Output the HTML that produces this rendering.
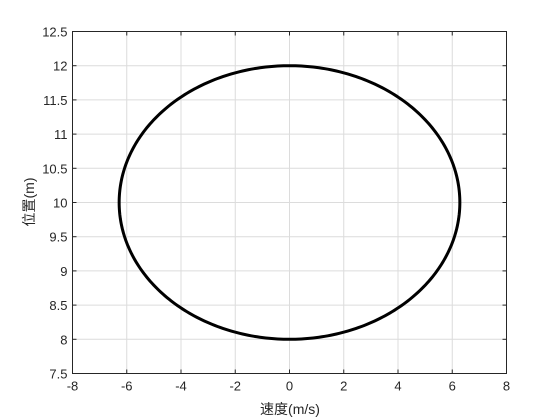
<!DOCTYPE html>
<html><head><meta charset="utf-8"><style>
body{margin:0;background:#fff;}
svg{display:block;font-family:"Liberation Sans","Noto Sans CJK SC",sans-serif;}
</style></head><body>
<svg id="chart" width="560" height="420" viewBox="0 0 560 420">
<rect x="0" y="0" width="560" height="420" fill="#fff"/>
<g id="grid"></g>
<path id="curve" fill="none" stroke="#000" stroke-width="3"/>
<rect x="72.5" y="31.5" width="434" height="342" fill="none" stroke="#262626" stroke-width="1"/>
<g id="ticks"></g>
<text x="290" y="414" font-size="14" fill="#262626" text-anchor="middle">速度(m/s)</text>
<text transform="translate(34,202) rotate(-90)" font-size="14" fill="#262626" text-anchor="middle">位置(m)</text>
</svg>
<script>
const xTicks=[-8,-6,-4,-2,0,2,4,6,8];
const yTicks=[7.5,8,8.5,9,9.5,10,10.5,11,11.5,12,12.5];
const centerX=[0];
const centerY=[10];
const radiusX=[6.28];
const radiusY=[2];
const L=72.5,R=506.5,T=31.5,B=373.5;
const sx=v=>L+(v+8)/16*(R-L);
const sy=v=>B-(v-7.5)/5*(B-T);
const NS='http://www.w3.org/2000/svg';
const g=document.getElementById('grid'),tk=document.getElementById('ticks');
function mk(p,tag,a){const e=document.createElementNS(NS,tag);for(const k in a)e.setAttribute(k,a[k]);p.appendChild(e);return e;}
xTicks.forEach(v=>{const x=sx(v);
const l=mk(g,'line',{x1:x,x2:x,y1:T,y2:B,stroke:'#dcdcdc','stroke-width':1});


mk(tk,'line',{x1:x,x2:x,y1:B,y2:B-4,stroke:'#262626'});
mk(tk,'line',{x1:x,x2:x,y1:T,y2:T+4,stroke:'#262626'});
const t=mk(tk,'text',{x:x,y:B+17,'font-size':13,fill:'#262626','text-anchor':'middle'});t.textContent=v;

});
yTicks.forEach(v=>{const y=sy(v);
const l=mk(g,'line',{x1:L,x2:R,y1:y,y2:y,stroke:'#dcdcdc','stroke-width':1});


mk(tk,'line',{x1:L,x2:L+4,y1:y,y2:y,stroke:'#262626'});
mk(tk,'line',{x1:R,x2:R-4,y1:y,y2:y,stroke:'#262626'});
const t=mk(tk,'text',{x:L-5,y:y+5,'font-size':13,fill:'#262626','text-anchor':'end'});t.textContent=v;

});
let d='';for(let i=0;i<=360;i++){const a=i*Math.PI/180;
const x=sx(centerX[0]+radiusX[0]*Math.sin(a)),y=sy(centerY[0]+radiusY[0]*Math.cos(a));
d+=(i?'L':'M')+x.toFixed(2)+' '+y.toFixed(2);}
document.getElementById('curve').setAttribute('d',d+'Z');
</script>
</body></html>
